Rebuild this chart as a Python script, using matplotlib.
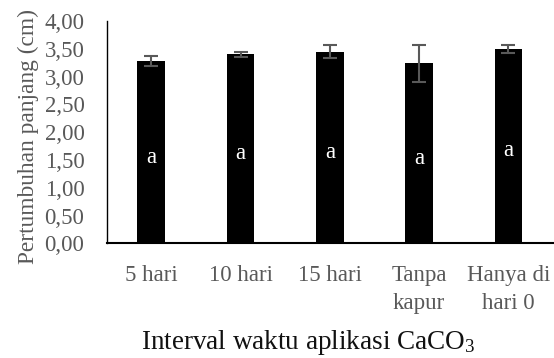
import matplotlib
matplotlib.use("Agg")
import matplotlib.pyplot as plt

categories = ["5 hari", "10 hari", "15 hari", "Tanpa\nkapur", "Hanya di\nhari 0"]
values = [3.28, 3.40, 3.45, 3.24, 3.49]
errors = [0.095, 0.045, 0.115, 0.335, 0.07]
letters = ["a", "a", "a", "a", "a"]
letter_y = [1.44, 1.51, 1.53, 1.43, 1.57]
yticks = [0, 0.5, 1, 1.5, 2, 2.5, 3, 3.5, 4]
ytick_labels = ["0,00", "0,50", "1,00", "1,50", "2,00", "2,50", "3,00", "3,50", "4,00"]

plt.rcParams["font.family"] = ["Liberation Serif", "DejaVu Serif"]
plt.rcParams["mathtext.default"] = "regular"

fig = plt.figure(figsize=(5.54, 3.58), dpi=100)
ax = fig.add_axes([0.1926, 0.3204, 0.8056, 0.621])

x = list(range(len(categories)))
ax.bar(x, values, width=0.31, color="black", zorder=2)
ax.errorbar(x, values, yerr=errors, fmt="none", ecolor="#595959",
            elinewidth=1.5, capsize=5, capthick=1.5, zorder=3)
for xi, yi, t in zip(x, letter_y, letters):
    ax.text(xi, yi, t, color="white", fontsize=16.5, ha="center", va="baseline", zorder=4)

ax.set_xlim(-0.5, 4.5)
ax.set_ylim(0, 4)
ax.set_yticks(yticks)
ax.set_yticklabels(ytick_labels)
ax.set_xticks(x)
ax.set_xticklabels(categories, linespacing=1.45)
ax.tick_params(axis="both", length=0, labelsize=16.5, labelcolor="#595959")
ax.tick_params(axis="x", pad=15.5)
ax.tick_params(axis="y", pad=16)

for s in ["top", "right"]:
    ax.spines[s].set_visible(False)
ax.spines["left"].set_color("black")
ax.spines["left"].set_linewidth(1.0)
ax.spines["bottom"].set_color("black")
ax.spines["bottom"].set_linewidth(1.5)

ax.set_ylabel("Pertumbuhan panjang (cm)", fontsize=16.8, color="#595959")
ax.yaxis.set_label_coords(-0.175, 0.48)
ax.set_xlabel("Interval waktu aplikasi CaCO$_3$", fontsize=19.5, color="#111111")
ax.xaxis.set_label_coords(0.451, -0.448)
ax.xaxis.label.set_va("center")
ax.yaxis.label.set_va("center")

fig.savefig("out.png", dpi=100)
